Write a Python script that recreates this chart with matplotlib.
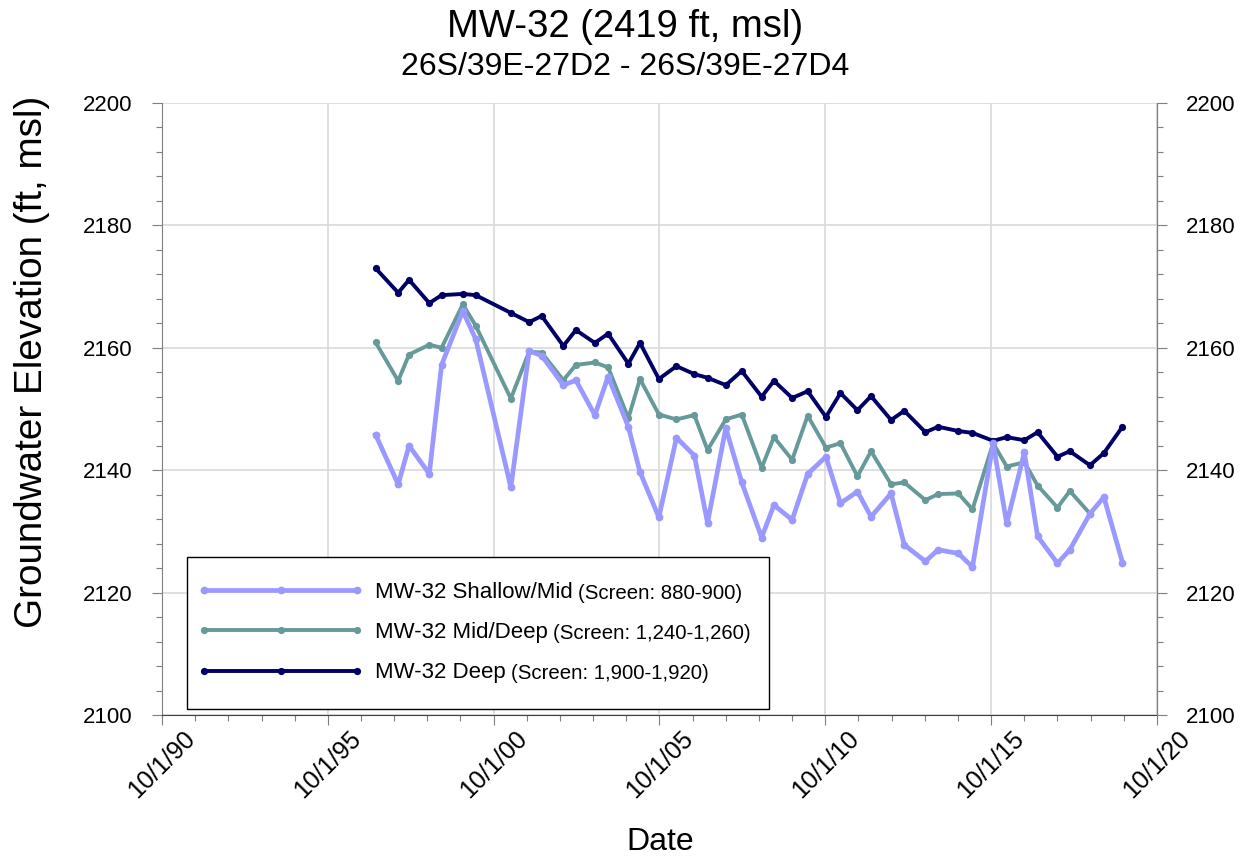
import pandas as pd
import matplotlib
matplotlib.use("Agg")
import matplotlib.pyplot as plt
import matplotlib.dates as mdates
from matplotlib.ticker import MultipleLocator, FuncFormatter
from matplotlib.patches import Rectangle
from matplotlib.transforms import Bbox

plt.rcParams["font.family"] = ["Liberation Sans", "DejaVu Sans"]

dates = pd.to_datetime([
    "1997-03-10", "1997-11-14", "1998-03-14", "1998-10-23", "1999-03-07",
    "1999-10-27", "2000-03-17", "2001-04-08", "2001-10-27", "2002-03-14",
    "2002-11-07", "2003-03-25", "2003-10-20", "2004-03-14", "2004-10-23",
    "2005-02-28", "2005-09-24", "2006-04-06", "2006-10-20", "2007-03-14",
    "2007-10-01", "2008-03-25", "2008-10-30", "2009-03-14", "2009-10-01",
    "2010-03-21", "2010-10-08", "2011-03-17", "2011-09-20", "2012-02-17",
    "2012-09-24", "2013-02-17", "2013-10-08", "2014-02-24", "2014-10-05",
    "2015-03-10", "2015-10-23", "2016-03-21", "2016-10-01", "2017-02-24",
    "2017-10-01", "2018-02-14", "2018-09-24", "2019-02-24", "2019-09-17",
])

shallow = [
    2145.8, 2137.7, 2144.0, 2139.4, 2157.2, 2166.0, 2161.4, 2137.2, 2159.5, 2158.7,
    2153.9, 2154.7, 2149.0, 2155.3, 2147.1, 2139.7, 2132.3, 2145.3, 2142.4, 2131.4,
    2146.9, 2138.0, 2129.0, 2134.3, 2131.9, 2139.4, 2142.2, 2134.6, 2136.5, 2132.4,
    2136.2, 2127.8, 2125.1, 2127.0, 2126.4, 2124.2, 2144.4, 2131.3, 2142.9, 2129.2,
    2124.8, 2127.0, 2132.9, 2135.6, 2124.9,
]
mid_deep = [
    2160.9, 2154.6, 2158.9, 2160.5, 2160.0, 2167.1, 2163.6, 2151.7, 2159.4, 2159.2,
    2154.7, 2157.2, 2157.6, 2156.8, 2148.5, 2154.9, 2149.1, 2148.3, 2149.0, 2143.3,
    2148.3, 2149.1, 2140.4, 2145.4, 2141.7, 2148.9, 2143.7, 2144.4, 2139.0, 2143.1,
    2137.7, 2138.0, 2135.1, 2136.1, 2136.2, 2133.6, 2144.4, 2140.6, 2141.3, 2137.5,
    2133.9, 2136.6, 2132.9,
]
deep = [
    2173.0, 2169.0, 2171.1, 2167.3, 2168.6, 2168.8, 2168.6, 2165.7, 2164.2, 2165.2,
    2160.3, 2162.9, 2160.8, 2162.3, 2157.4, 2160.8, 2154.9, 2157.0, 2155.7, 2155.1,
    2153.9, 2156.2, 2152.0, 2154.6, 2151.8, 2152.9, 2148.7, 2152.6, 2149.8, 2152.1,
    2148.2, 2149.7, 2146.2, 2147.1, 2146.4, 2146.1, 2144.8, 2145.4, 2144.9, 2146.2,
    2142.2, 2143.1, 2140.8, 2142.8, 2147.1,
]

labels = ["MW-32 Shallow/Mid", "MW-32 Mid/Deep", "MW-32 Deep"]
screens = ["(Screen: 880-900)", "(Screen: 1,240-1,260)", "(Screen: 1,900-1,920)"]
colors = ["#9999FF", "#669999", "#000066"]

fig = plt.figure(figsize=(12.5, 8.56), dpi=100)
ax = fig.add_axes([0.1296, 0.1647, 0.796, 0.715])

series = [shallow, mid_deep, deep]
widths = [3.4, 2.8, 2.8]
msizes = [5.6, 5.2, 5.2]
zorders = [4, 3, 3.5]
lines = []
for vals, c, lw, ms, z, lab in zip(series, colors, widths, msizes, zorders, labels):
    ln, = ax.plot(dates[:len(vals)], vals, color=c, lw=lw, marker="o", ms=ms,
                  mew=0, label=lab, zorder=z)
    lines.append(ln)

ax.set_xlim(pd.Timestamp("1990-10-01"), pd.Timestamp("2020-10-01"))
ax.set_ylim(2100, 2200)
ax.xaxis.set_major_locator(mdates.YearLocator(5, month=10, day=1))
ax.xaxis.set_minor_locator(mdates.YearLocator(1, month=10, day=1))
ax.xaxis.set_major_formatter(FuncFormatter(
    lambda v, p: (lambda d: f"{d.month}/{d.day}/{d:%y}")(mdates.num2date(v))))
ax.yaxis.set_major_locator(MultipleLocator(20))
ax.yaxis.set_minor_locator(MultipleLocator(4))

ax.grid(True, which="major", color="#D9D9D9", lw=1.2, zorder=0)
ax.set_axisbelow(True)

spine_c = "#7F7F7F"
ax.spines["top"].set_visible(False)
for s in ["left", "right", "bottom"]:
    ax.spines[s].set_color(spine_c)
ax.spines["bottom"].set_color("#404040")
ax.tick_params(axis="both", which="both", direction="out", colors=spine_c,
               labelcolor="black", labelsize=16)
ax.tick_params(axis="x", labelsize=18)
ax.tick_params(axis="both", which="major", length=7, width=0.8)
ax.tick_params(axis="both", which="minor", length=4.3, width=0.8)
ax.tick_params(axis="y", which="major", pad=14)
ax.tick_params(axis="x", which="major", pad=1)
for t in ax.get_xticklabels():
    t.set_rotation(45)
    t.set_ha("center")

ax2 = ax.twinx()
ax2.set_ylim(ax.get_ylim())
ax2.yaxis.set_major_locator(MultipleLocator(20))
ax2.yaxis.set_minor_locator(MultipleLocator(4))
for s in ["top", "left", "bottom"]:
    ax2.spines[s].set_visible(False)
ax2.spines["right"].set_color(spine_c)
ax2.tick_params(axis="y", which="both", direction="out", colors=spine_c,
                labelcolor="black", labelsize=16)
ax2.tick_params(axis="y", which="major", length=7, width=0.8, pad=14)
ax2.tick_params(axis="y", which="minor", length=4.3, width=0.8)

fig.text(0.5, 0.968, "MW-32 (2419 ft, msl)", ha="center", va="center", fontsize=27.5)
fig.text(0.5, 0.922, "26S/39E-27D2 - 26S/39E-27D4", ha="center", va="center", fontsize=23)
fig.text(0.0256, 0.577, "Groundwater Elevation (ft, msl)", rotation=90,
         ha="center", va="center", fontsize=27.8)
fig.text(0.528, 0.0164, "Date", ha="center", va="center", fontsize=23)

# legend drawn without frame; frame added as a patch so the smaller
# "(Screen: ...)" texts fit inside it
trim_px = 15
leg = ax2.legend(lines, labels, loc="lower left",
                 bbox_to_anchor=(0.025 - trim_px / 995, 0.01),
                 borderaxespad=0, frameon=False, fontsize=16, numpoints=3,
                 handlelength=7.5, handletextpad=0.48, labelspacing=0.86,
                 borderpad=1.15)
leg.set_zorder(6)

extras = []
for txt, scr in zip(leg.get_texts(), screens):
    a = ax2.annotate(scr, xy=(1, 0), xycoords=txt, xytext=(4, 0),
                     textcoords="offset points", ha="left", va="bottom",
                     fontsize=14.7, zorder=7)
    extras.append(a)

fig.canvas.draw()
r = fig.canvas.get_renderer()
bb = Bbox.union([leg.get_window_extent(r)] + [e.get_window_extent(r) for e in extras])
bb = Bbox.from_extents(bb.x0 + trim_px, bb.y0, bb.x1 + 18, bb.y1)
bb_ax = bb.transformed(ax2.transAxes.inverted())
ax2.add_patch(Rectangle((bb_ax.x0, bb_ax.y0), bb_ax.width, bb_ax.height,
                        transform=ax2.transAxes, facecolor="white",
                        edgecolor="black", lw=1.0, zorder=5))

fig.savefig("out.png", dpi=100)
